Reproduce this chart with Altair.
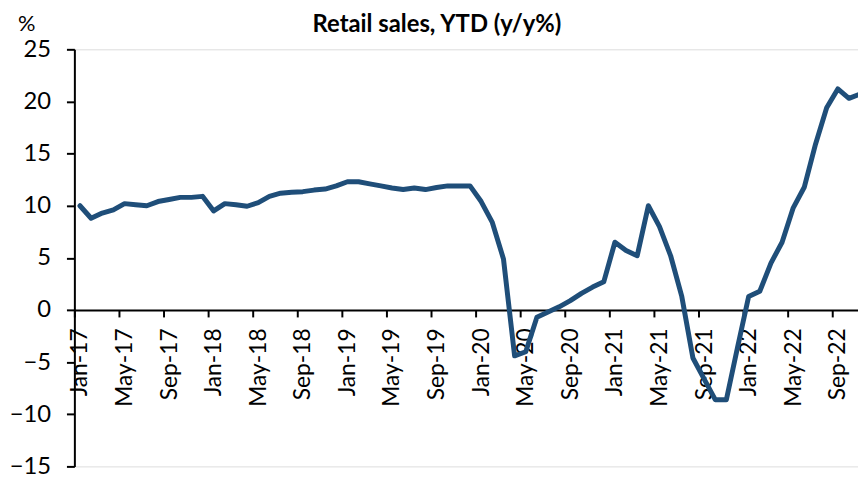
import altair as alt
import pandas as pd

# Monthly values, Jan-17 .. Nov-22 (y/y %, YTD)
months = [
    "Jan-17","Feb-17","Mar-17","Apr-17","May-17","Jun-17","Jul-17","Aug-17","Sep-17","Oct-17","Nov-17","Dec-17",
    "Jan-18","Feb-18","Mar-18","Apr-18","May-18","Jun-18","Jul-18","Aug-18","Sep-18","Oct-18","Nov-18","Dec-18",
    "Jan-19","Feb-19","Mar-19","Apr-19","May-19","Jun-19","Jul-19","Aug-19","Sep-19","Oct-19","Nov-19","Dec-19",
    "Jan-20","Feb-20","Mar-20","Apr-20","May-20","Jun-20","Jul-20","Aug-20","Sep-20","Oct-20","Nov-20","Dec-20",
    "Jan-21","Feb-21","Mar-21","Apr-21","May-21","Jun-21","Jul-21","Aug-21","Sep-21","Oct-21","Nov-21","Dec-21",
    "Jan-22","Feb-22","Mar-22","Apr-22","May-22","Jun-22","Jul-22","Aug-22","Sep-22","Oct-22","Nov-22",
]
values = [
    10.0, 8.8, 9.3, 9.6, 10.2, 10.1, 10.0, 10.4, 10.6, 10.8, 10.8, 10.9,
    9.5, 10.2, 10.1, 9.95, 10.3, 10.9, 11.2, 11.3, 11.35, 11.5, 11.6, 11.9,
    12.3, 12.3, 12.1, 11.9, 11.7, 11.55, 11.7, 11.55, 11.75, 11.9, 11.9, 11.9,
    10.4, 8.4, 4.9, -4.4, -4.0, -0.7, -0.2, 0.3, 0.9, 1.6, 2.2, 2.7,
    6.5, 5.7, 5.2, 10.0, 8.0, 5.2, 1.3, -4.6, -6.6, -8.6, -8.6, -3.6,
    1.3, 1.8, 4.5, 6.5, 9.8, 11.8, 15.9, 19.4, 21.2, 20.3, 20.7,
]
tick_labels = ["Jan-17","May-17","Sep-17","Jan-18","May-18","Sep-18","Jan-19","May-19",
               "Sep-19","Jan-20","May-20","Sep-20","Jan-21","May-21","Sep-21","Jan-22",
               "May-22","Sep-22"]
y_ticks = [-15, -10, -5, 0, 5, 10, 15, 20, 25]
title_text = "Retail sales, YTD (y/y%)"

df = pd.DataFrame({"idx": list(range(len(values))), "month": months, "value": values})
title_df = pd.DataFrame({"t": [title_text]})

W = 791
H = 421
px_per_month = 11.25
x_max = -0.5 + W / px_per_month
tick_vals = [4 * k - 0.5 for k in range(len(tick_labels))]
label_js = "[" + ",".join("'" + t + "'" for t in tick_labels) + "]"

FONT = "Lato"

line = alt.Chart(df).mark_line(
    color="#1F4E79", strokeWidth=5, strokeJoin="round", strokeCap="round"
).encode(
    x=alt.X("idx:Q",
            scale=alt.Scale(domain=[-0.5, x_max], nice=False, zero=False),
            axis=alt.Axis(values=tick_vals, title=None, grid=False,
                          labelExpr=label_js + "[round((datum.value + 0.5) / 4)]",
                          labelAngle=-90, labelOffset=px_per_month / 2,
                          labelFont=FONT, labelFontSize=23, labelColor="#000000",
                          labelPadding=11, tickSize=7, tickColor="#000000",
                          tickWidth=2, domainColor="#000000", domainWidth=2,
                          offset=-(H * 15 / 40), labelOverlap=False,
                          labelBound=False, labelFlush=False, labelLimit=300)),
    y=alt.Y("value:Q",
            scale=alt.Scale(domain=[-15, 25], nice=False, zero=False),
            axis=alt.Axis(values=y_ticks, grid=False, title="%",
                          titleAngle=0, titleX=-48.5, titleY=-19.5,
                          titleAlign="center", titleBaseline="alphabetic",
                          titleFont=FONT, titleFontSize=22, titleFontWeight="normal",
                          titleColor="#000000",
                          labelFont=FONT, labelFontSize=24, labelColor="#000000",
                          labelPadding=16, tickSize=8, tickColor="#000000",
                          tickWidth=2, domainColor="#000000", domainWidth=2,
                          labelOverlap=False)),
)

title = alt.Chart(title_df).mark_text(
    font=FONT, fontSize=24, fontWeight="bold", color="#000000",
    align="center", baseline="alphabetic"
).encode(
    text="t:N",
    x=alt.value(366),
    y=alt.value(-17.5),
)

chart = alt.layer(line, title).properties(
    width=W,
    height=H,
    autosize=alt.AutoSizeParams(type="none"),
    padding={"left": 67, "top": 39.5, "right": 0, "bottom": 10},
).configure_view(stroke=None).configure(background="white")

chart.save("out.html", embed_options={"renderer": "svg", "actions": False})
